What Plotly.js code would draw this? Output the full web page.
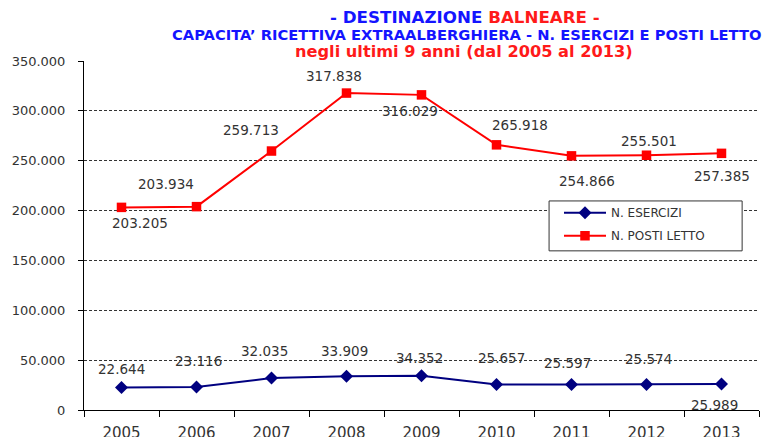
<!DOCTYPE html>
<html>
<head>
<meta charset="utf-8">
<script src="https://cdn.plot.ly/plotly-3.0.1.min.js"></script>
<style>html,body{margin:0;padding:0;background:#fff;}#chart{width:764px;height:437px;}</style>
</head>
<body>
<div id="chart"></div>
<script>
const years = ['2005','2006','2007','2008','2009','2010','2011','2012','2013'];
const esercizi = [22644, 23116, 32035, 33909, 34352, 25657, 25597, 25574, 25989];
const postiLetto = [203205, 203934, 259713, 317838, 316029, 265918, 254866, 255501, 257385];
const seriesNames = ['N. ESERCIZI', 'N. POSTI LETTO'];
const yTicks = [0, 50000, 100000, 150000, 200000, 250000, 300000, 350000];

// label offsets in pixels (dx right, dy down)
const escOffsets = [[0,-18],[2,-26],[-7,-27],[-2,-25],[-2,-18],[5,-26],[-4,-21],[2,-26],[-7,21]];
const plOffsets = [[18,16],[-31,-23],[-21,-21],[-13,-17],[-12,16],[23,-20],[15,25],[2,-14],[0,23]];

function fmt(v){ return v.toString().replace(/\B(?=(\d{3})+(?!\d))/g, '.'); }

const ff = 'DejaVu Sans, Verdana, sans-serif';
const labelFont = {family:ff, size:13.5, color:'#333333'};
const annotations = [];
years.forEach((y,i)=>{
  annotations.push({x:i, y:esercizi[i], xref:'x', yref:'y', text:fmt(esercizi[i]), showarrow:false,
    xshift:escOffsets[i][0], yshift:-escOffsets[i][1], font:labelFont});
  annotations.push({x:i, y:postiLetto[i], xref:'x', yref:'y', text:fmt(postiLetto[i]), showarrow:false,
    xshift:plOffsets[i][0], yshift:-plOffsets[i][1], font:labelFont});
});
annotations.push({xref:'paper', yref:'paper', x:0.564, y:1.0, yanchor:'middle', yshift:44, showarrow:false,
  text:'<b><span style="color:#1414ff">- DESTINAZIONE</span> <span style="color:#ff1a1a">BALNEARE -</span></b>',
  font:{family:ff, size:16.7}});
annotations.push({xref:'paper', yref:'paper', x:0.566, y:1.0, yanchor:'middle', yshift:27, showarrow:false,
  text:'<b>CAPACITA\u2019 RICETTIVA EXTRAALBERGHIERA - N. ESERCIZI E POSTI LETTO</b>',
  font:{family:ff, size:14.7, color:'#1414ff'}});
annotations.push({xref:'paper', yref:'paper', x:0.563, y:1.0, yanchor:'middle', yshift:10, showarrow:false,
  text:'<b>negli ultimi 9 anni (dal 2005 al 2013)</b>',
  font:{family:ff, size:16.2, color:'#ff1a1a'}});

const traces = [
  {x:years, y:esercizi, name:seriesNames[0], legendgroup:'a', type:'scatter', mode:'lines+markers',
   line:{color:'#000080', width:2}, marker:{symbol:'diamond', size:10, color:'#000080'}},
  {x:years, y:postiLetto, name:seriesNames[1], legendgroup:'b', type:'scatter', mode:'lines+markers',
   line:{color:'#ff0000', width:2}, marker:{symbol:'square', size:9.5, color:'#ff0000'}}
];

const layout = {
  width:764, height:437,
  margin:{l:84, r:5, t:61, b:27},
  paper_bgcolor:'#ffffff', plot_bgcolor:'#ffffff',
  separators:',.',
  showlegend:true,
  hovermode:false,
  legend:{x:0.7037, y:0.607, xanchor:'left', yanchor:'top', bgcolor:'rgba(0,0,0,0)',
    borderwidth:0, font:{family:ff, size:12, color:'#333333'},
    itemwidth:42, traceorder:'grouped', tracegroupgap:4},
  shapes:[{type:'rect', xref:'paper', yref:'paper', x0:0.689, x1:0.975, y0:0.456, y1:0.599,
    layer:'above', fillcolor:'#ffffff', line:{color:'#333333', width:1}}],
  xaxis:{type:'category', range:[-0.5,8.5], showline:true, linecolor:'#000', linewidth:1,
    ticks:'outside', tickson:'boundaries', ticklen:6, tickcolor:'#000', showgrid:false,
    tickfont:{family:ff, size:15, color:'#333333'}, ticklabelstandoff:9, zeroline:false},
  yaxis:{range:[0,350000], tickvals:yTicks, tickformat:',d', showline:true, linecolor:'#000', linewidth:1,
    ticks:'outside', ticklen:5, tickcolor:'#000', showgrid:true, gridcolor:'#333333', griddash:'3px,2px', gridwidth:1,
    tickfont:{family:ff, size:13, color:'#333333'}, ticklabelstandoff:10, zeroline:false},
  annotations:annotations
};
Plotly.newPlot('chart', traces, layout, {displayModeBar:false, staticPlot:true});
</script>
</body>
</html>
